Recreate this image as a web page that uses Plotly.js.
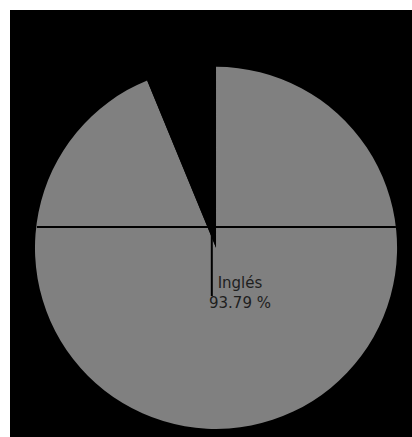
<!DOCTYPE html>
<html>
<head>
<meta charset="utf-8">
<script src="https://cdn.plot.ly/plotly-3.0.1.min.js"></script>
<style>
  html, body { margin: 0; padding: 0; background: #ffffff; width: 412px; height: 437px; overflow: hidden; }
  #chart { position: absolute; left: 10px; top: 10px; width: 402px; height: 427px; background: #000; }
</style>
</head>
<body>
<div id="chart"></div>
<script>
const labels = ["Inglés", "Otros"];
const values = [93.79, 6.21];
const sliceColors = ["#808080", "#000000"];

const total = values.reduce((a, b) => a + b, 0);
const pctText = values.map(v => (v / total * 100).toFixed(2) + " %");

const data = [{
  type: "pie",
  labels: labels,
  values: values,
  sort: false,
  direction: "clockwise",
  rotation: 0,
  marker: { colors: sliceColors, line: { width: 0 } },
  textinfo: "none",
  hoverinfo: "none",
  showlegend: false,
  domain: { x: [0.062, 0.963], y: [0.019, 0.867] }
}];

const layout = {
  width: 402,
  height: 427,
  margin: { l: 0, r: 0, t: 0, b: 0 },
  paper_bgcolor: "#000000",
  plot_bgcolor: "#000000",
  showlegend: false,
  shapes: [
    { type: "line", xref: "paper", yref: "paper", x0: 0.067, x1: 0.960, y0: 0.492, y1: 0.492,
      line: { color: "#000000", width: 2 } },
    { type: "line", xref: "paper", yref: "paper", x0: 0.502, x1: 0.502, y0: 0.492, y1: 0.33,
      line: { color: "#000000", width: 2 } }
  ],
  annotations: [
    { xref: "paper", yref: "paper", x: 0.572, y: 0.337, xanchor: "center", yanchor: "middle",
      showarrow: false, align: "center",
      text: labels[0] + "<br>" + pctText[0],
      font: { family: "DejaVu Sans", size: 15, color: "#1e1e1e" } }
  ]
};

Plotly.newPlot("chart", data, layout, { displayModeBar: false, staticPlot: true });
</script>
</body>
</html>
